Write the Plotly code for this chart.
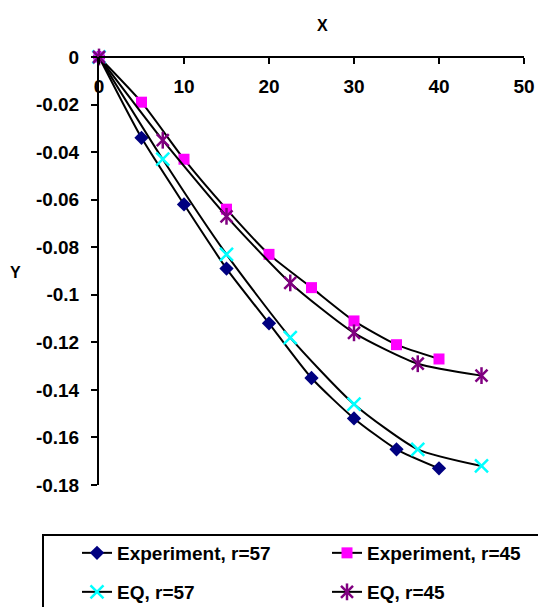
import plotly.graph_objects as go

# ---- data ----
exp57_x = [0, 5, 10, 15, 20, 25, 30, 35, 40]
exp57_y = [0, -0.034, -0.062, -0.089, -0.112, -0.135, -0.152, -0.165, -0.173]
exp45_x = [0, 5, 10, 15, 20, 25, 30, 35, 40]
exp45_y = [0, -0.019, -0.043, -0.064, -0.083, -0.097, -0.111, -0.121, -0.127]
eq57_x = [0, 7.5, 15, 22.5, 30, 37.5, 45]
eq57_y = [0, -0.043, -0.083, -0.118, -0.146, -0.165, -0.172]
eq45_x = [0, 7.5, 15, 22.5, 30, 37.5, 45]
eq45_y = [0, -0.035, -0.067, -0.095, -0.116, -0.129, -0.134]

x_tickvals = [0, 10, 20, 30, 40, 50]
x_ticktext = ["0", "10", "20", "30", "40", "50"]
y_tickvals = [0, -0.02, -0.04, -0.06, -0.08, -0.1, -0.12, -0.14, -0.16, -0.18]
y_ticktext = ["0", "-0.02", "-0.04", "-0.06", "-0.08", "-0.1", "-0.12", "-0.14", "-0.16", "-0.18"]

W, H = 538, 607
L, R, T, B = 99, 524, 57, 485
pw, ph = R - L, B - T


def px(x):
    return (x - L) / pw


def py(y):
    return (B - y) / ph


FONT = dict(family="Liberation Sans, Arial, sans-serif", size=19, color="black", weight="bold")
line = dict(color="black", width=2, shape="spline", smoothing=0.6)

fig = go.Figure()
fig.add_trace(go.Scatter(x=exp57_x, y=exp57_y, mode="lines+markers", name="Experiment, r=57",
                         line=line, legend="legend",
                         marker=dict(symbol="diamond", size=11, color="#000080"), cliponaxis=False))
fig.add_trace(go.Scatter(x=exp45_x, y=exp45_y, mode="lines+markers", name="Experiment, r=45",
                         line=line, legend="legend2",
                         marker=dict(symbol="square", size=11, color="#FF00FF"), cliponaxis=False))
fig.add_trace(go.Scatter(x=eq57_x, y=eq57_y, mode="lines+markers", name="EQ, r=57",
                         line=line, legend="legend3",
                         marker=dict(symbol="x-thin", size=13, line=dict(color="#00FFFF", width=2.5)),
                         cliponaxis=False))
fig.add_trace(go.Scatter(x=eq45_x, y=eq45_y, mode="lines+markers", name="EQ, r=45",
                         line=line, legend="legend4",
                         marker=dict(symbol="x-thin", size=12, line=dict(color="#800080", width=2.5)),
                         cliponaxis=False))
fig.add_trace(go.Scatter(x=eq45_x, y=eq45_y, mode="markers", name=" ",
                         legend="legend5",
                         marker=dict(symbol="line-ns", size=12, line=dict(color="#800080", width=2.5)),
                         cliponaxis=False))

row1, row2 = py(553), py(592)
col1, col2 = px(77), px(327)
leg = dict(font=FONT, bgcolor="rgba(0,0,0,0)", borderwidth=0, xanchor="left", yanchor="middle",
           orientation="h")

fig.update_layout(
    width=W, height=H,
    margin=dict(l=L, r=W - R, t=T, b=H - B, pad=0, autoexpand=False),
    paper_bgcolor="white", plot_bgcolor="white",
    font=FONT,
    xaxis=dict(range=[0, 50], tickvals=x_tickvals, ticktext=x_ticktext,
               anchor="free", position=1, side="bottom", automargin=False,
               ticklabeloverflow="allow",
               showline=True, linecolor="black", linewidth=2,
               ticks="outside", ticklen=6, tickwidth=2, tickcolor="black",
               showgrid=False, zeroline=False, ticklabelstandoff=6),
    yaxis=dict(range=[-0.18, 0], tickvals=y_tickvals, ticktext=y_ticktext, automargin=False,
               showline=True, linecolor="black", linewidth=2,
               ticks="outside", ticklen=6, tickwidth=2, tickcolor="black",
               showgrid=False, zeroline=False, ticklabelstandoff=8),
    legend=dict(x=col1, y=row1, **leg),
    legend2=dict(x=col2, y=row1, **leg),
    legend3=dict(x=col1, y=row2, **leg),
    legend4=dict(x=col2, y=row2, **leg),
    legend5=dict(x=col2, y=row2, **leg),
    showlegend=True,
    shapes=[dict(type="rect", xref="paper", yref="paper",
                 x0=px(43), x1=px(570), y0=py(535), y1=py(630),
                 line=dict(color="black", width=2), fillcolor="rgba(0,0,0,0)")],
    annotations=[
        dict(text="X", xref="paper", yref="paper", x=px(322), y=py(25), showarrow=False,
             xanchor="center", yanchor="middle",
             font=dict(family=FONT["family"], size=16, color="black", weight="bold")),
        dict(text="Y", xref="paper", yref="paper", x=px(15), y=py(272), showarrow=False,
             xanchor="center", yanchor="middle",
             font=dict(family=FONT["family"], size=16, color="black", weight="bold")),
    ],
)

fig.write_html("out.html", config={"displayModeBar": False},
               post_script="document.body.style.margin='0';document.body.style.overflow='hidden';")
